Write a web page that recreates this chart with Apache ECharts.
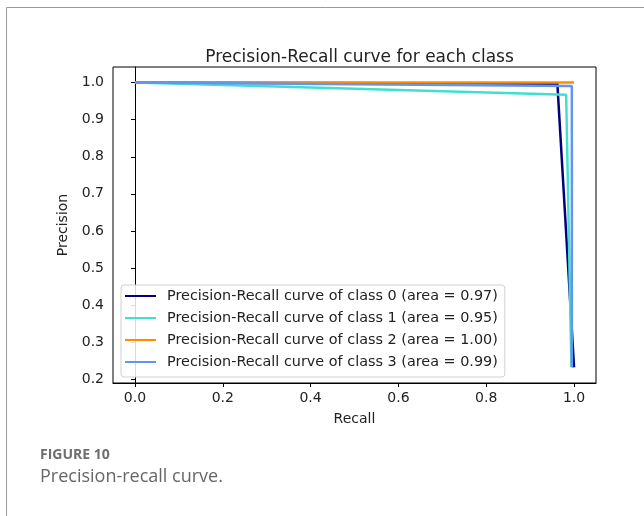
<!DOCTYPE html>
<html lang="en">
<head>
    <meta charset="UTF-8">
    <title>Precision-Recall curve</title>
    <style>
        * {
            padding: 0;
            margin: 0;
        }

        .EC {
            width: 644px;
            height: 516px;
        }
    </style>
    <script src="https://cdn.jsdelivr.net/npm/echarts@6.0.0/dist/echarts.min.js"></script>
</head>
<body>
<div class="EC"></div>
<script>
    // recall / precision points of each class curve
    const recall0 = [0, 0.962, 1.0]
    const precision0 = [1.0, 0.997, 0.232]
    const recall1 = [0, 0.982, 0.994]
    const precision1 = [1.0, 0.967, 0.234]
    const recall2 = [0, 1.0]
    const precision2 = [1.0, 1.0]
    const recall3 = [0, 0.995, 0.995]
    const precision3 = [1.0, 0.991, 0.232]

    const classNames = [
        'Precision-Recall curve of class 0 (area = 0.97)',
        'Precision-Recall curve of class 1 (area = 0.95)',
        'Precision-Recall curve of class 2 (area = 1.00)',
        'Precision-Recall curve of class 3 (area = 0.99)'
    ]
    const colors = ['#000080', '#40e0d0', '#ff8c00', '#6495ed']
    const xTicks = [0, 0.2, 0.4, 0.6, 0.8, 1.0]
    const yTicks = [0.2, 0.3, 0.4, 0.5, 0.6, 0.7, 0.8, 0.9, 1.0]

    const curves = [
        [recall0, precision0],
        [recall1, precision1],
        [recall2, precision2],
        [recall3, precision3]
    ]

    const font = 'DejaVu Sans'
    const ink = '#222'

    let EC = echarts.init(document.querySelector('.EC'))
    let option = {
        backgroundColor: '#fff',
        animation: false,
        title: {
            text: 'Precision-Recall curve for each class',
            left: 354.5,
            textAlign: 'center',
            top: 44,
            textStyle: {
                fontFamily: font,
                fontSize: 17,
                fontWeight: 'normal',
                color: ink
            }
        },
        legend: {
            orient: 'vertical',
            left: 121,
            top: 285,
            itemWidth: 31,
            itemHeight: 14,
            itemGap: 8,
            padding: [4, 7, 8, 3],
            backgroundColor: 'rgba(255,255,255,0.85)',
            borderColor: '#d0d0d0',
            borderWidth: 1,
            borderRadius: 3,
            itemStyle: { opacity: 0 },
            textStyle: {
                fontFamily: font,
                fontSize: 14.4,
                color: ink,
                padding: [0, 0, 0, 6]
            },
            data: classNames
        },
        grid: {
            left: 113,
            top: 67,
            right: 48,
            bottom: 133,
            show: true,
            borderColor: '#000',
            borderWidth: 1
        },
        xAxis: {
            type: 'value',
            min: -0.05,
            max: 1.05,
            name: 'Recall',
            nameLocation: 'middle',
            nameGap: 29,
            nameTextStyle: { fontFamily: font, fontSize: 14, color: ink },
            axisLine: { lineStyle: { color: '#000', width: 1 } },
            axisTick: {
                show: true,
                length: 4,
                lineStyle: { color: '#000' },
                customValues: xTicks
            },
            axisLabel: {
                margin: 8,
                fontFamily: font,
                fontSize: 14,
                color: ink,
                customValues: xTicks,
                formatter: v => v.toFixed(1)
            },
            splitLine: { show: false }
        },
        yAxis: {
            type: 'value',
            min: 0.19,
            max: 1.042,
            name: 'Precision',
            nameLocation: 'middle',
            nameGap: 42,
            nameTextStyle: { fontFamily: font, fontSize: 14, color: ink },
            axisLine: { show: true, lineStyle: { color: '#000', width: 1 } },
            axisTick: {
                show: true,
                length: 4,
                lineStyle: { color: '#000' },
                customValues: yTicks
            },
            axisLabel: {
                margin: 9,
                fontFamily: font,
                fontSize: 14,
                color: ink,
                customValues: yTicks,
                formatter: v => v.toFixed(1)
            },
            splitLine: { show: false }
        },
        series: curves.map((c, i) => ({
            name: classNames[i],
            type: 'line',
            symbol: 'none',
            color: colors[i],
            lineStyle: { width: 2.5, color: colors[i] },
            data: c[0].map((r, k) => [r, c[1][k]])
        })),
        graphic: [
            {
                type: 'rect',
                shape: { x: 6.5, y: 7.5, width: 700, height: 600 },
                style: { fill: 'none', stroke: '#9a9a9a', lineWidth: 1 },
                silent: true
            },
            {
                type: 'text',
                left: 40,
                top: 448,
                style: {
                    text: 'FIGURE 10',
                    fontFamily: 'Open Sans',
                    fontWeight: 'bold',
                    fontSize: 14,
                    fill: '#6e6e6e'
                }
            },
            {
                type: 'text',
                left: 40,
                top: 468,
                style: {
                    text: 'Precision-recall curve.',
                    fontFamily: 'Open Sans',
                    fontSize: 18,
                    fill: '#666'
                }
            }
        ]
    }
    EC.setOption(option)
</script>
</body>
</html>
